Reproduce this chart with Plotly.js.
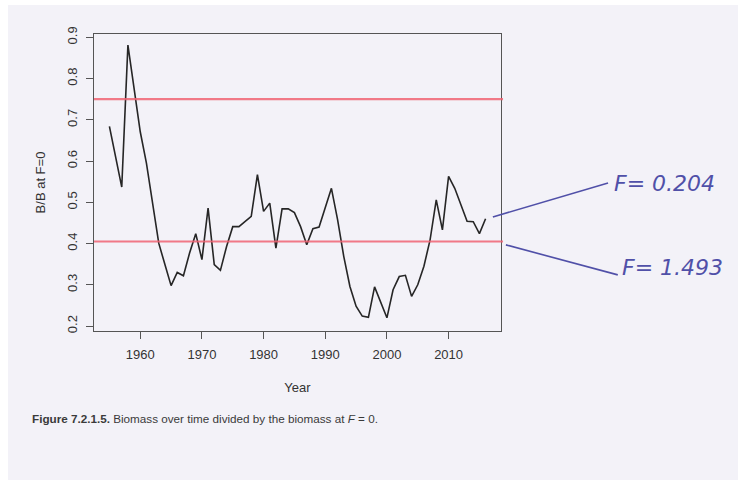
<!DOCTYPE html>
<html>
<head>
<meta charset="utf-8">
<script src="https://cdn.plot.ly/plotly-3.0.1.min.js"></script>
<style>
  html, body { margin: 0; padding: 0; background: #ffffff; }
  #chart { position: absolute; left: 8px; top: 5px; width: 730px; height: 475px; }
</style>
</head>
<body>
<div id="chart"></div>
<script>
// Years of the series
const years = [1955,1956,1957,1958,1959,1960,1961,1962,1963,1964,1965,1966,1967,1968,1969,1970,
  1971,1972,1973,1974,1975,1976,1977,1978,1979,1980,1981,1982,1983,1984,1985,1986,1987,1988,1989,
  1990,1991,1992,1993,1994,1995,1996,1997,1998,1999,2000,2001,2002,2003,2004,2005,2006,2007,2008,
  2009,2010,2011,2012,2013,2014,2015,2016];
// B/B at F=0
const ratio = [0.684,0.610,0.537,0.881,0.780,0.671,0.595,0.498,0.401,0.349,0.298,0.330,0.322,0.377,0.424,0.361,
  0.486,0.349,0.335,0.393,0.441,0.441,0.454,0.466,0.567,0.478,0.498,0.389,0.484,0.484,0.475,0.441,0.397,0.436,0.440,
  0.486,0.534,0.458,0.369,0.296,0.248,0.224,0.221,0.295,0.256,0.220,0.288,0.320,0.323,0.272,0.300,0.345,0.409,0.506,
  0.433,0.563,0.534,0.494,0.454,0.453,0.424,0.460];
// Reference levels
const refLevels = [0.75, 0.405];
const refLabels = ["F= 0.204", "F= 1.493"];
const xTicks = [1960,1970,1980,1990,2000,2010];
const yTicks = [0.2,0.3,0.4,0.5,0.6,0.7,0.8,0.9];

const bg = '#f3f2f8';
const axisCol = '#555555';
const ink = '#5050a8';

const trace = {
  x: years, y: ratio, type: 'scatter', mode: 'lines',
  line: {color: '#262626', width: 1.6},
  hoverinfo: 'x+y', showlegend: false
};

const shapes = refLevels.map(v => ({
  type: 'line', xref: 'paper', yref: 'y', x0: 0, x1: 1.005, y0: v, y1: v,
  line: {color: 'rgba(240,100,115,0.85)', width: 2.2}
}));
// hand-drawn pointer strokes
shapes.push({type:'line', xref:'paper', yref:'paper', x0:0.980, y0:0.384, x1:1.263, y1:0.498,
  line:{color: ink, width: 1.6}});
shapes.push({type:'line', xref:'paper', yref:'paper', x0:1.012, y0:0.290, x1:1.287, y1:0.189,
  line:{color: ink, width: 1.6}});

const annotations = [
  {xref:'paper', yref:'paper', x:1.272, y:0.498, xanchor:'left', yanchor:'middle', showarrow:false,
   text: refLabels[0], font:{family:'DejaVu Sans', size:22, color: ink, style:'italic'}},
  {xref:'paper', yref:'paper', x:1.292, y:0.215, xanchor:'left', yanchor:'middle', showarrow:false,
   text: refLabels[1], font:{family:'DejaVu Sans', size:22, color: ink, style:'italic'}},
  {xref:'paper', yref:'paper', x:-0.157, y:-0.296, xanchor:'left', yanchor:'middle', showarrow:false,
   text: '<b>Figure 7.2.1.5.</b> Biomass over time divided by the biomass at <i>F</i> = 0.',
   font:{family:'Liberation Sans', size:11.7, color:'#3a3a3a'}}
];

const layout = {
  width: 730, height: 475,
  paper_bgcolor: bg, plot_bgcolor: bg,
  margin: {l: 86, r: 237, t: 29, b: 149, autoexpand: false},
  font: {family: 'Liberation Sans, Arial, sans-serif', color: '#333333', size: 13},
  xaxis: {
    range: [1952.5, 2018.5], tickvals: xTicks, ticktext: xTicks.map(String),
    ticks: 'outside', ticklen: 7, tickcolor: axisCol, tickwidth: 1, ticklabelstandoff: 4,
    showline: true, linecolor: axisCol, linewidth: 1, mirror: true,
    showgrid: false, zeroline: false, automargin: false,
    tickfont: {size: 13, color: '#333333'},
    title: {text: 'Year', font: {size: 13, color: '#333333'}, standoff: 22}
  },
  yaxis: {
    range: [0.188, 0.908], tickvals: yTicks, ticktext: yTicks.map(v => v.toFixed(1)),
    tickangle: -90,
    ticks: 'outside', ticklen: 7, tickcolor: axisCol, tickwidth: 1, ticklabelstandoff: 4,
    showline: true, linecolor: axisCol, linewidth: 1, mirror: true,
    showgrid: false, zeroline: false, automargin: false,
    tickfont: {size: 13, color: '#333333'},
    title: {text: 'B/B at F=0', font: {size: 13, color: '#333333'}, standoff: 16}
  },
  shapes: shapes,
  annotations: annotations
};

Plotly.newPlot('chart', [trace], layout, {displayModeBar: false, staticPlot: true});
</script>
</body>
</html>
